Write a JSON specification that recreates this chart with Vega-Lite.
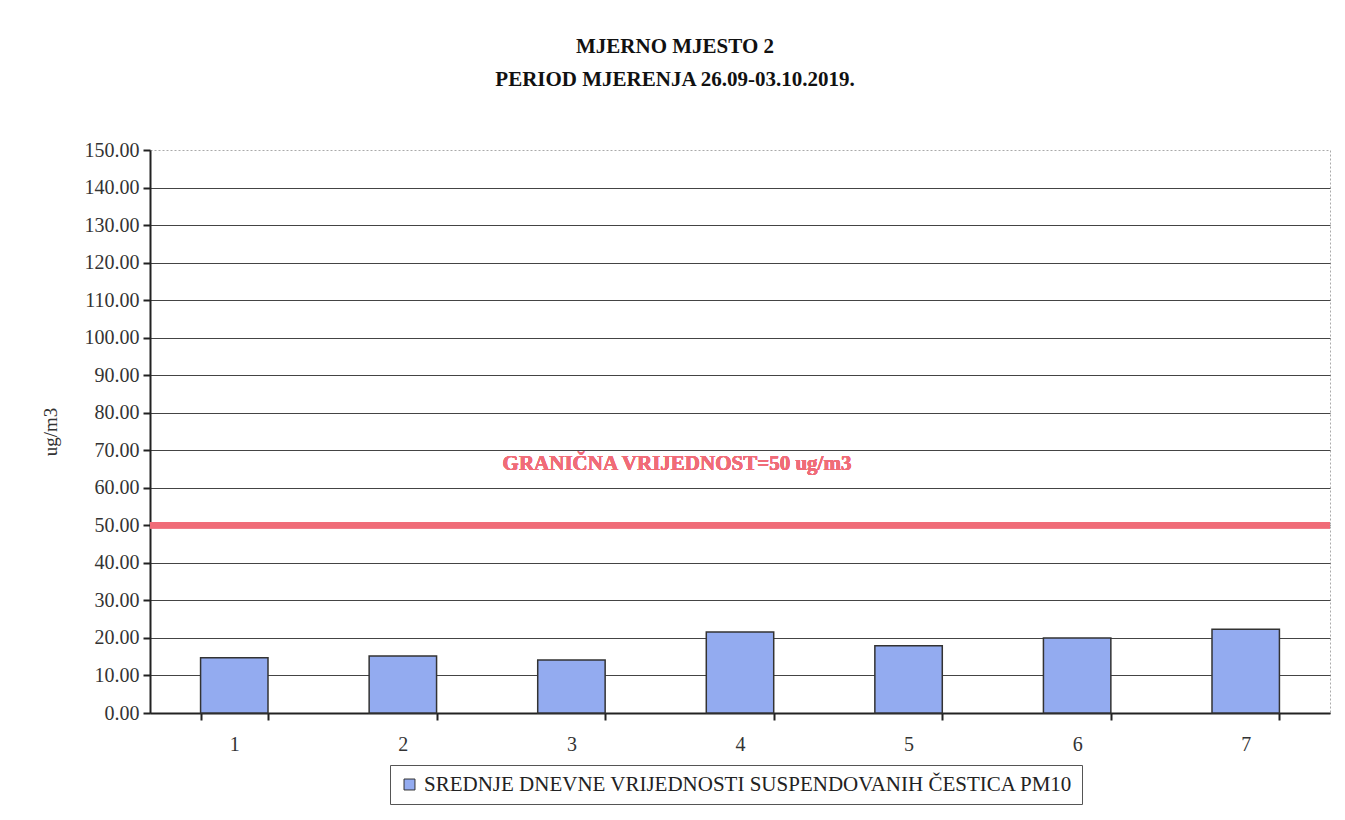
{
  "$schema": "https://vega.github.io/schema/vega-lite/v6.json",
  "autosize": "none",
  "padding": {"left": 150, "top": 150, "right": 15, "bottom": 107},
  "width": 1180,
  "height": 563,
  "background": "white",
  "title": {
    "text": ["MJERNO MJESTO 2", "PERIOD MJERENJA 26.09-03.10.2019."],
    "font": "Liberation Serif",
    "fontSize": 21,
    "fontWeight": "bold",
    "color": "#111",
    "lineHeight": 33,
    "offset": 50,
    "dx": -65,
    "anchor": "middle"
  },
  "config": {
    "font": "Liberation Serif",
    "view": {"stroke": "#aaaaaa", "strokeDash": [2, 2], "strokeWidth": 1},
    "axis": {
      "labelFont": "Liberation Serif",
      "labelFontSize": 20,
      "labelColor": "#333",
      "titleFont": "Liberation Serif",
      "titleFontSize": 19,
      "titleFontWeight": "normal",
      "titleColor": "#333",
      "domainColor": "#222",
      "domainWidth": 2,
      "tickColor": "#222",
      "tickWidth": 2,
      "tickSize": 7
    }
  },
  "data": {
    "values": [
      {"dan": "1", "pm10": 14.7, "serija": "SREDNJE DNEVNE VRIJEDNOSTI SUSPENDOVANIH ČESTICA PM10"},
      {"dan": "2", "pm10": 15.2, "serija": "SREDNJE DNEVNE VRIJEDNOSTI SUSPENDOVANIH ČESTICA PM10"},
      {"dan": "3", "pm10": 14.1, "serija": "SREDNJE DNEVNE VRIJEDNOSTI SUSPENDOVANIH ČESTICA PM10"},
      {"dan": "4", "pm10": 21.6, "serija": "SREDNJE DNEVNE VRIJEDNOSTI SUSPENDOVANIH ČESTICA PM10"},
      {"dan": "5", "pm10": 17.9, "serija": "SREDNJE DNEVNE VRIJEDNOSTI SUSPENDOVANIH ČESTICA PM10"},
      {"dan": "6", "pm10": 20.0, "serija": "SREDNJE DNEVNE VRIJEDNOSTI SUSPENDOVANIH ČESTICA PM10"},
      {"dan": "7", "pm10": 22.3, "serija": "SREDNJE DNEVNE VRIJEDNOSTI SUSPENDOVANIH ČESTICA PM10"}
    ]
  },
  "encoding": {
    "x": {
      "field": "dan",
      "type": "ordinal",
      "scale": {"paddingInner": 0.6, "paddingOuter": 0.3},
      "axis": {"title": null, "labelAngle": 0, "labelPadding": 14, "tickBand": "extent", "grid": false}
    },
    "y": {
      "field": "pm10",
      "type": "quantitative",
      "scale": {"domain": [0, 150], "nice": false},
      "axis": {
        "title": "ug/m3",
        "values": [0, 10, 20, 30, 40, 50, 60, 70, 80, 90, 100, 110, 120, 130, 140, 150],
        "format": ".2f",
        "grid": true,
        "gridColor": {"condition": {"test": "datum.value == 150", "value": "transparent"}, "value": "#444"},
        "gridWidth": 1,
        "labelPadding": 4,
        "titlePadding": 24
      }
    }
  },
  "layer": [
    {
      "mark": {"type": "bar", "stroke": "#333", "strokeWidth": 1.5},
      "encoding": {
        "color": {
          "field": "serija",
          "type": "nominal",
          "scale": {"range": ["#93abf0"]},
          "legend": {
            "title": null,
            "orient": "none",
            "legendX": 240,
            "legendY": 615,
            "symbolType": "square",
            "symbolSize": 120,
            "symbolStrokeColor": "#333",
            "symbolStrokeWidth": 1,
            "labelFont": "Liberation Serif",
            "labelFontSize": 21,
            "labelColor": "#222",
            "labelLimit": 900,
            "strokeColor": "#555",
            "padding": 9
          }
        }
      }
    },
    {
      "mark": {"type": "rule", "color": "#f06c78", "strokeWidth": 6},
      "encoding": {"y": {"datum": 50}, "x": null}
    },
    {
      "mark": {
        "type": "text",
        "text": "GRANIČNA VRIJEDNOST=50 ug/m3",
        "font": "Liberation Serif",
        "fontSize": 21,
        "fontWeight": "bold",
        "color": "#f06c78",
        "dx": -63
      },
      "encoding": {"x": {"datum": "4"}, "y": {"datum": 66.3}}
    }
  ]
}
